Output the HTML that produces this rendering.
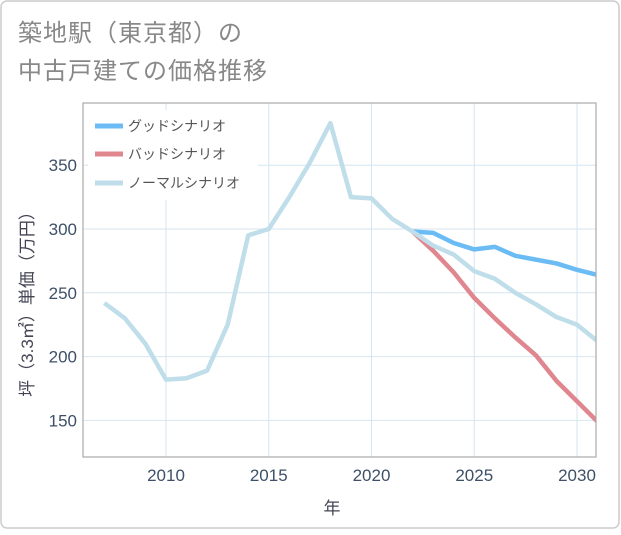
<!DOCTYPE html>
<html><head><meta charset="utf-8"><style>
body{margin:0;background:#fff;font-family:"Liberation Sans","Noto Sans CJK JP",sans-serif;}
#wrap{position:relative;width:621px;height:530px;}
</style></head><body>
<div id="wrap">
<svg id="chart" width="621" height="530" font-family="Liberation Sans, Noto Sans CJK JP, sans-serif">
<rect x="1" y="1" width="618" height="527" rx="6" fill="#fff" stroke="#ccc" stroke-width="1.5"/>
<text x="18" y="41" font-size="24" letter-spacing="1" fill="#888">築地駅（東京都）の</text>
<text x="18" y="79" font-size="24" letter-spacing="1" fill="#888">中古戸建ての価格推移</text>
<g id="grid"></g>
<g id="series"></g>
<rect x="83" y="103" width="513" height="354" fill="none" stroke="#aaa" stroke-width="1.2"/>
<g id="legend">
<rect x="88" y="110" width="170" height="90" fill="#fff"/>
<line x1="95" y1="126" x2="123" y2="126" stroke="#6bbcf5" stroke-width="5"/>
<text x="128" y="131" font-size="14" fill="#555">グッドシナリオ</text>
<line x1="95" y1="154" x2="123" y2="154" stroke="#e0868f" stroke-width="5"/>
<text x="128" y="159" font-size="14" fill="#555">バッドシナリオ</text>
<line x1="95" y1="183" x2="123" y2="183" stroke="#bfdeea" stroke-width="5"/>
<text x="128" y="188" font-size="14" fill="#555">ノーマルシナリオ</text>
</g>
<text x="332" y="514" font-size="17" fill="#445" text-anchor="middle">年</text>
<text transform="translate(33,300) rotate(-90)" font-size="17" fill="#445" text-anchor="middle">坪（3.3㎡）単価（万円）</text>
</svg>
</div>
<script>
const years=[2007,2008,2009,2010,2011,2012,2013,2014,2015,2016,2017,2018,2019,2020,2021,2022,2023,2024,2025,2026,2027,2028,2029,2030,2031];
const normal=[242,230,210,182,183,189,225,295,300,325,352,383,325,324,308,298,287,280,267,261,250,241,231,225,212];
const goodYears=[2022,2023,2024,2025,2026,2027,2028,2029,2030,2031];
const good=[298,297,289,284,286,279,276,273,268,264];
const bad=[298,283,266,246,230,215,201,181,165,149];
const xTicks=[2010,2015,2020,2025,2030];
const yTicks=[150,200,250,300,350];
const NS='http://www.w3.org/2000/svg';
const X=y=>166+(y-2010)*20.55;
const Y=v=>229-(v-300)*1.276;
const L=83,R=596,T=103,B=457;
const grid=document.getElementById('grid'),ser=document.getElementById('series');
function mk(tag,attrs,parent){const e=document.createElementNS(NS,tag);for(const k in attrs)e.setAttribute(k,attrs[k]);parent.appendChild(e);return e;}
xTicks.forEach(t=>{
 const l=mk('line',{x1:X(t),x2:X(t),y1:T,y2:B,stroke:'#d6e6f0','stroke-width':1},grid);
 
 
 const tx=mk('text',{x:X(t),y:B+24,'font-size':17,fill:'#3d5068','text-anchor':'middle'},grid);
 tx.textContent=t;
 
 
});
yTicks.forEach(t=>{
 const l=mk('line',{x1:L,x2:R,y1:Y(t),y2:Y(t),stroke:'#d6e6f0','stroke-width':1},grid);
 
 
 const tx=mk('text',{x:L-6,y:Y(t)+6,'font-size':17,fill:'#3d5068','text-anchor':'end'},grid);
 tx.textContent=t;
 
 
});
const clip=mk('clipPath',{id:'pc'},ser);mk('rect',{x:L,y:T,width:R-L,height:B-T},clip);
function line(xs,vs,color,name){
 const p=mk('polyline',{points:xs.map((y,i)=>X(y)+','+Y(vs[i])).join(' '),fill:'none',stroke:color,'stroke-width':4.5,'stroke-linejoin':'round','clip-path':'url(#pc)'},ser);
 
 
}
line(goodYears,good,'#6bbcf5','good-scenario-line');
line(goodYears,bad,'#e0868f','bad-scenario-line');
line(years,normal,'#bfdeea','normal-scenario-line');
</script>
</body></html>
